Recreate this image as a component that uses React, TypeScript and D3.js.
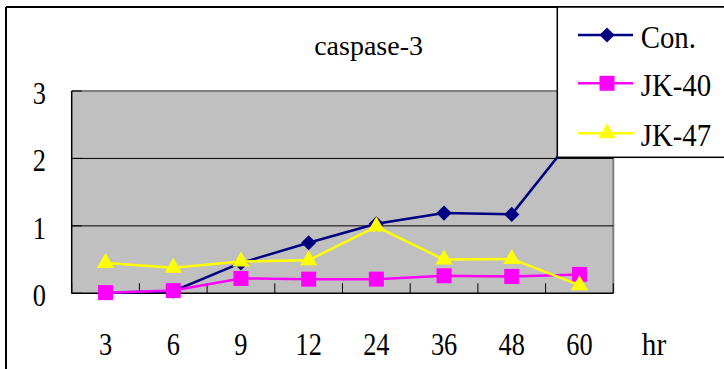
import React from "react";
import * as d3 from "d3";

const hours = ["3", "6", "9", "12", "24", "36", "48", "60"];
const conValues = [0.01, 0.03, 0.45, 0.75, 1.03, 1.19, 1.17, 2.43];
const jk40Values = [0.01, 0.04, 0.22, 0.21, 0.21, 0.26, 0.25, 0.28];
const jk47Values = [0.45, 0.38, 0.47, 0.49, 0.99, 0.5, 0.51, 0.12];
const yTicks = [0, 1, 2, 3];
const seriesNames = ["Con.", "JK-40", "JK-47"];

const W = 724;
const H = 369;
const plot = { left: 71.7, right: 613.3, top: 91, bottom: 293.3 };

type Series = { name: string; values: number[]; color: string; symbol: d3.SymbolType; size: number; rotate: number };

const series: Series[] = [
  { name: seriesNames[0], values: conValues, color: "#000080", symbol: d3.symbolSquare, size: 115, rotate: 45 },
  { name: seriesNames[1], values: jk40Values, color: "#FF00FF", symbol: d3.symbolSquare, size: 225, rotate: 0 },
  { name: seriesNames[2], values: jk47Values, color: "#FFFF00", symbol: d3.symbolTriangle, size: 130, rotate: 0 },
];

const textStyle: React.CSSProperties = { fontFamily: "Liberation Serif" };

export default function App() {
  const x = d3.scaleBand<string>().domain(hours).range([plot.left, plot.right]).padding(0);
  const y = d3.scaleLinear().domain([0, 3]).range([plot.bottom, plot.top]);
  const cx = (h: string) => (x(h) ?? 0) + x.bandwidth() / 2;

  const line = d3
    .line<number>()
    .x((_, i) => cx(hours[i]))
    .y((v) => y(v));

  const boundaries = hours.map((h) => x(h) ?? 0).concat([plot.right]);

  const legendX = 557.3;
  const legendRows = [35, 83.3, 133.3];

  return (
    <svg width={W} height={H} style={{ position: "absolute", left: 0, top: 0, background: "#fff" }}>
      {/* outer chart frame */}
      <line x1={6} y1={7} x2={W} y2={7} stroke="#000" strokeWidth={2} />
      <line x1={6} y1={7} x2={6} y2={H} stroke="#000" strokeWidth={2} />

      {/* title */}
      <text x={368.6} y={55} textAnchor="middle" style={textStyle} fontSize={28} fill="#000">
        caspase-3
      </text>

      {/* plot area */}
      <rect x={plot.left} y={plot.top} width={plot.right - plot.left} height={plot.bottom - plot.top} fill="#C0C0C0" />
      <line x1={plot.left} y1={plot.top} x2={plot.right} y2={plot.top} stroke="#808080" strokeWidth={2} />
      <line x1={plot.right} y1={plot.top} x2={plot.right} y2={plot.bottom} stroke="#808080" strokeWidth={2} />

      {/* gridlines */}
      {yTicks
        .filter((t) => t > 0 && t < 3)
        .map((t) => (
          <line key={t} x1={plot.left} x2={plot.right} y1={y(t)} y2={y(t)} stroke="#000" strokeWidth={1} />
        ))}

      {/* axes */}
      <line x1={plot.left} y1={plot.top} x2={plot.left} y2={plot.bottom} stroke="#000" strokeWidth={1.5} />
      <line x1={plot.left} y1={plot.bottom} x2={plot.right} y2={plot.bottom} stroke="#000" strokeWidth={1.5} />
      {yTicks.map((t) => (
        <line key={"yt" + t} x1={plot.left} x2={plot.left + 10} y1={y(t)} y2={y(t)} stroke="#000" strokeWidth={1} />
      ))}
      {boundaries.map((b, i) => (
        <line key={"xt" + i} x1={b} x2={b} y1={plot.bottom} y2={plot.bottom - 10} stroke="#000" strokeWidth={1} />
      ))}

      {/* y tick labels */}
      {yTicks.map((t) => (
        <g key={"yl" + t} transform={`translate(46,${y(t) + 13}) scale(0.85,1)`}>
          <text textAnchor="end" style={textStyle} fontSize={31} fill="#000">
            {t}
          </text>
        </g>
      ))}

      {/* x tick labels */}
      {hours.map((h) => (
        <g key={"xl" + h} transform={`translate(${cx(h)},355) scale(0.85,1)`}>
          <text textAnchor="middle" style={textStyle} fontSize={31} fill="#000">
            {h}
          </text>
        </g>
      ))}
      <g transform="translate(654,355) scale(0.94,1)">
        <text textAnchor="middle" style={textStyle} fontSize={31} fill="#000">
          hr
        </text>
      </g>

      {/* series */}
      {series.map((s) => (
        <g key={s.name}>
          <path d={line(s.values) ?? ""} fill="none" stroke={s.color} strokeWidth={2.5} />
          {s.values.map((v, i) => (
            <path
              key={i}
              d={d3.symbol().type(s.symbol).size(s.size)() ?? ""}
              transform={`translate(${cx(hours[i])},${y(v)}) rotate(${s.rotate})`}
              fill={s.color}
            />
          ))}
        </g>
      ))}

      {/* legend */}
      <rect x={legendX} y={7} width={W - legendX + 5} height={157.3 - 7} fill="#fff" stroke="#000" strokeWidth={1.5} />
      {series.map((s, i) => (
        <g key={"lg" + s.name}>
          <line x1={578} x2={633} y1={legendRows[i]} y2={legendRows[i]} stroke={s.color} strokeWidth={2.5} />
          <path
            d={d3.symbol().type(s.symbol).size(s.size)() ?? ""}
            transform={`translate(607,${legendRows[i]}) rotate(${s.rotate})`}
            fill={s.color}
          />
          <g transform={`translate(640.7,${legendRows[i] + 13}) scale(0.93,1)`}>
            <text style={textStyle} fontSize={31} fill="#000">
              {s.name}
            </text>
          </g>
        </g>
      ))}
    </svg>
  );
}
